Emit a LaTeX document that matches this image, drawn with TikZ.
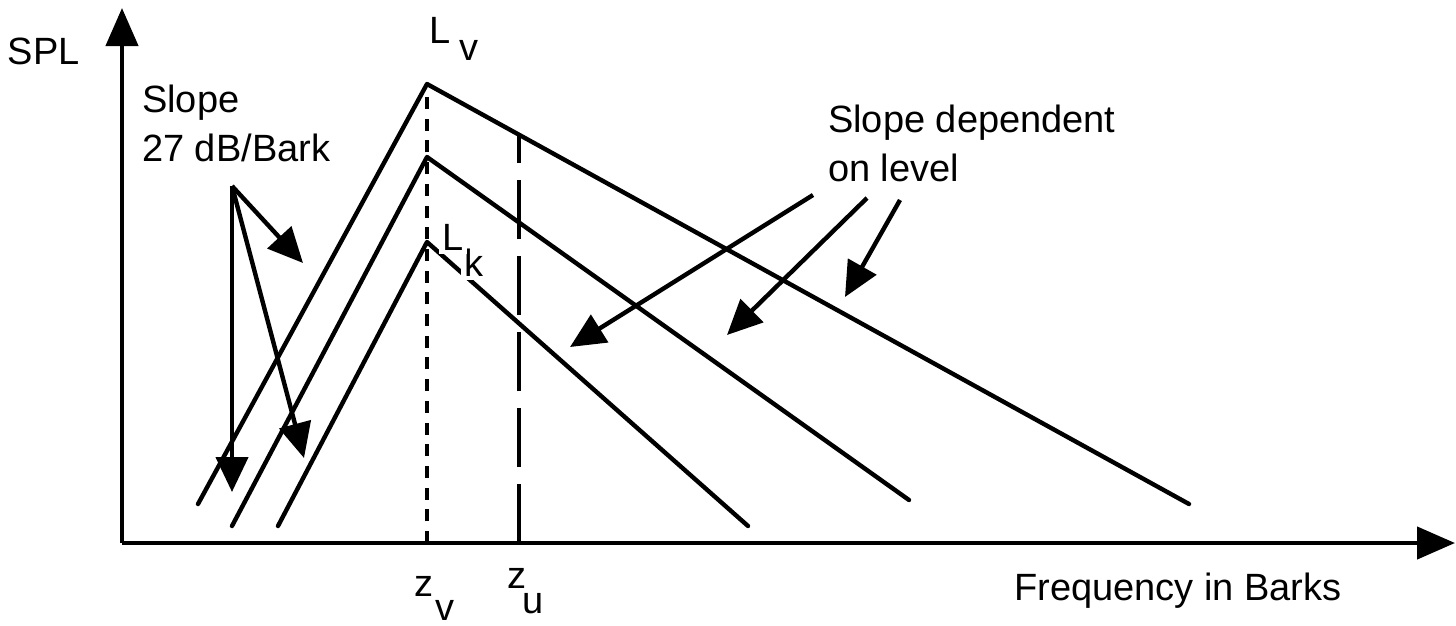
\documentclass[tikz,border=0pt]{standalone}
\usepackage{fontspec}
\setmainfont{Liberation Sans}
\usetikzlibrary{arrows.meta}
\begin{document}
\begin{tikzpicture}[x=1pt,y=-1pt,
  ln/.style={line width=4.4pt, line cap=round, line join=round},
  lbl/.style={inner sep=0pt, anchor=base west, font=\fontsize{38}{46}\selectfont},
  wlbl/.style={lbl, fill=white, inner sep=3.5pt},
  axarrow/.style={line width=4.4pt, -{Triangle[length=38pt,width=32pt]}},
  ptr/.style={line width=4.4pt, -{Triangle[length=35pt,width=32pt]}},
  sdash/.style={line width=4.4pt, dash pattern=on 12pt off 9.7pt},
  ldash/.style={line width=4.4pt, dash pattern=on 59pt off 17pt}]
\useasboundingbox (0,0) rectangle (1456,625);
\fill[white] (0,0) rectangle (1456,625);
% axes
\coordinate (o) at (122,543);
\coordinate (ytop) at (122,8);
\coordinate (xend) at (1455,543);
\draw[axarrow] (o) -- (ytop);
\draw[axarrow] (o) -- (xend);
% curves
\coordinate (a0) at (198,504); \coordinate (ap) at (427,84);  \coordinate (a1) at (1189,504);
\coordinate (b0) at (232,526); \coordinate (bp) at (427,157); \coordinate (b1) at (909,500);
\coordinate (c0) at (278,526); \coordinate (cp) at (427,242); \coordinate (c1) at (748,526);
\draw[ln] (a0) -- (ap) -- (a1);
\draw[ln] (b0) -- (bp) -- (b1);
\draw[ln] (c0) -- (cp) -- (c1);
% vertical markers
\coordinate (zvb) at (427,543);
\coordinate (zub) at (519,543);
\coordinate (zut) at (519,135);
\draw[sdash] (zvb) -- (ap);
\draw[ldash] (zub) -- (zut);
% slope arrows
\coordinate (s0) at (232,186);
\coordinate (t1) at (303,263);
\coordinate (t2) at (232,492);
\coordinate (t3) at (304,458);
\draw[ptr] (s0) -- (t1);
\draw[ptr] (s0) -- (t2);
\draw[ptr] (s0) -- (t3);
\coordinate (d1s) at (813,195); \coordinate (d1e) at (570,347);
\coordinate (d2s) at (867,198); \coordinate (d2e) at (727,335);
\coordinate (d3s) at (900,200); \coordinate (d3e) at (845,297);
\draw[ptr] (d1s) -- (d1e);
\draw[ptr] (d2s) -- (d2e);
\draw[ptr] (d3s) -- (d3e);
% labels
\node[lbl] (spl) at (7.5,64) {SPL};
\node[lbl] (lv) at (429,43) {L};
\node[lbl] (lvs) at (459.5,60) {v};
\node[lbl] (sl1) at (142,112) {Slope};
\node[lbl] (sl2) at (142,161) {27 dB/Bark};
\node[lbl] (sd1) at (828,132) {Slope dependent};
\node[lbl] (sd2) at (828,181) {on level};
\node[wlbl] (lks) at (460.5,276) {k};
\node[wlbl] (lk) at (438.5,250) {L};
\node[lbl] (zv) at (414,596) {z};
\node[lbl] (zvs) at (435,620) {v};
\node[lbl] (zu) at (507,588) {z};
\node[lbl] (zus) at (522.5,613) {u};
\node[lbl] (freq) at (1014,600) {Frequency in Barks};
\end{tikzpicture}
\end{document}
